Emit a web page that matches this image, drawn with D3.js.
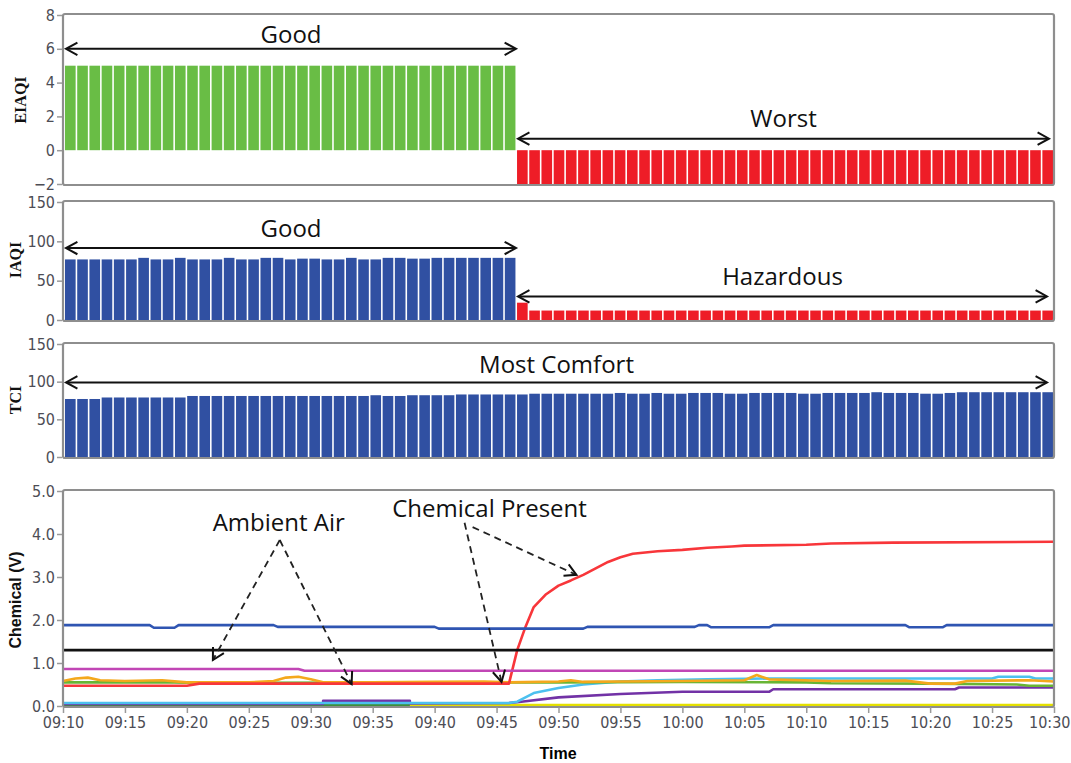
<!DOCTYPE html>
<html>
<head>
<meta charset="utf-8">
<script src="https://cdn.jsdelivr.net/npm/d3@7"></script>
<style>
  body { margin: 0; background: #fff; }
  .tick text { font-family: "Liberation Sans Narrow", "DejaVu Sans Condensed", sans-serif; fill: #4d4d55; }
  .note { font-family: "Open Sans", sans-serif; font-size: 24px; fill: #111; }
</style>
</head>
<body>
<div id="container"></div>
<script>
var W = 1071, H = 763

// ---- data ----
// bar panels: one bar per minute, 09:10 .. 10:30
var eiaqi = [5,5,5,5,5,5,5,5,5,5, 5,5,5,5,5,5,5,5,5,5, 5,5,5,5,5,5,5,5,5,5, 5,5,5,5,5,5,5,
  -2,-2,-2,-2,-2,-2,-2,-2,-2,-2, -2,-2,-2,-2,-2,-2,-2,-2,-2,-2, -2,-2,-2,-2,-2,-2,-2,-2,-2,-2,
  -2,-2,-2,-2,-2,-2,-2,-2,-2,-2, -2,-2,-2,-2]
var iaqi = [77,77,77,77,77,77,79,77,77,79, 77,77,77,79,77,77,79,79,77,78, 78,77,77,79,77,77,79,79,78,78,
  79,79,79,79,79,79,79,
  22,12,12,12,12,12,12,12,12,12, 12,12,12,12,12,12,12,12,12,12, 12,12,12,12,12,12,12,12,12,12,
  12,12,12,12,12,12,12,12,12,12, 12,12,12,12]
var tci = [77,77,77,79,79,79,79,79,79,79, 81,81,81,81,81,81,81,81,81,81, 81,81,81,81,81,82,81,81,82,82,
  82,82,83,83,83,83,83,83,84,84, 84,84,84,84,84,85,84,84,85,84, 84,85,85,85,84,84,85,85,85,85,
  84,84,85,85,85,85,86,85,85,85, 84,84,85,86,86,86,86,86,86,86, 86]
var goodCount = 37   // bars before the chemical is released

var eiaqiTicks = [-2, 0, 2, 4, 6, 8]
var indexTicks = [0, 50, 100, 150]
var chemTicks = [0, 1, 2, 3, 4, 5]
var timeTicks = ["09:10","09:15","09:20","09:25","09:30","09:35","09:40","09:45","09:50","09:55",
  "10:00","10:05","10:10","10:15","10:20","10:25","10:30"]

// chemical sensor lines [time, volts]
var chemYellow = [["09:10",0.02],["10:30",0.02]]
var chemDarkGreen = [["09:10",0.02],["09:38",0.02]]
var chemPurple = [["09:10",0.05],["09:31",0.05],["09:31",0.12],["09:38",0.12],["09:38",0.06],["09:46",0.07],
  ["09:47",0.1],["09:50",0.2],["09:55",0.28],["10:00",0.33],["10:07",0.33],["10:07:20",0.39],
  ["10:22",0.39],["10:22:20",0.43],["10:30",0.43]]
var chemCyan = [["09:10",0.07],["09:46",0.07],["09:46:40",0.1],["09:48",0.3],["09:50",0.42],["09:52",0.5],
  ["09:55",0.57],["09:58",0.6],["10:02",0.62],["10:07",0.64],["10:25",0.64],["10:25:30",0.68],
  ["10:28",0.68],["10:28:30",0.64],["10:30",0.64]]
var chemGreen = [["09:10",0.55],["09:19",0.55],["09:20",0.54],["09:46",0.55],["09:50",0.55],["10:00",0.56],
  ["10:10",0.55],["10:12",0.53],["10:20",0.52],["10:27",0.5],["10:28",0.47],["10:30",0.47]]
var chemOrange = [["09:10",0.58],["09:11",0.64],["09:12",0.66],["09:13",0.6],["09:15",0.58],["09:18",0.6],
  ["09:20",0.55],["09:25",0.55],["09:27",0.58],["09:28",0.66],["09:29",0.68],["09:30",0.62],["09:31",0.55],
  ["09:35",0.55],["09:40",0.56],["09:44",0.57],["09:46",0.55],["09:50",0.57],["09:51",0.6],["09:52",0.56],
  ["09:55",0.57],["10:00",0.58],["10:05",0.6],["10:06",0.72],["10:07",0.62],["10:12",0.58],["10:18",0.59],
  ["10:20",0.52],["10:22",0.52],["10:23",0.58],["10:28",0.6],["10:30",0.57]]
var chemRed = [["09:10",0.47],["09:20",0.47],["09:21",0.52],["09:46",0.52],["09:46:40",1.3],["09:47:20",1.84],
  ["09:48",2.3],["09:49",2.6],["09:50",2.8],["09:51",2.92],["09:52",3.05],["09:53",3.2],["09:54",3.35],
  ["09:55",3.46],["09:56",3.54],["09:58",3.6],["10:00",3.63],["10:02",3.68],["10:04",3.71],
  ["10:05",3.73],["10:10",3.75],["10:12",3.78],["10:17",3.8],["10:30",3.82]]
var chemMagenta = [["09:10",0.86],["09:29",0.86],["09:29:30",0.82],["10:30",0.82]]
var chemBlack = [["09:10",1.3],["10:30",1.3]]
var chemBlue = [["09:10",1.88],["09:17",1.88],["09:17:20",1.82],["09:19",1.82],["09:19:20",1.88],["09:27",1.88],
  ["09:27:20",1.84],["09:40",1.84],["09:40:20",1.8],["09:52",1.8],["09:52:20",1.84],["10:01",1.84],
  ["10:01:20",1.88],["10:02",1.88],["10:02:20",1.83],["10:07",1.83],["10:07:20",1.88],["10:18",1.88],
  ["10:18:20",1.83],["10:21",1.83],["10:21:20",1.88],["10:30",1.88]]

var lineOrder = ["yellow","darkGreen","purple","cyan","green","orange","red","magenta","black","blue"]
var lineData = {yellow: chemYellow, darkGreen: chemDarkGreen, purple: chemPurple, cyan: chemCyan,
  green: chemGreen, orange: chemOrange, red: chemRed, magenta: chemMagenta, black: chemBlack, blue: chemBlue}
var lineColor = {yellow: "#e4e000", darkGreen: "#3f8f3a", purple: "#7232a6", cyan: "#4cc0ef",
  green: "#68b535", orange: "#f4a81c", red: "#f8363a", magenta: "#c146b5", black: "#111111", blue: "#2f55b2"}

// annotations: [time, volts]
var ambientText = ["09:27:25", 4.08]
var ambientArrows = [[["09:27:30",3.86],["09:22:06",1.07]], [["09:27:30",3.86],["09:33:18",0.51]]]
var chemicalText = ["09:44:26", 4.4]
var chemicalArrows = [[["09:42:25",4.26],["09:45:24",0.56]], [["09:43:04",4.16],["09:51:27",3.05]]]

// ---- scales ----
var parseT = s => d3.timeParse(s.length > 5 ? "%H:%M:%S" : "%H:%M")(s)
var x = d3.scaleTime().domain([parseT("09:10"), parseT("10:30")]).range([63, 1054])
var xb = d3.scaleBand().domain(d3.range(eiaqi.length)).range([65, 1053]).paddingInner(0.13)

var svg = d3.select('#container').append('svg')
  .attr('width', W)
  .attr('height', H)

function frame(y) {
  var r = y.range()
  svg.append('rect')
    .attr('x', x.range()[0]).attr('y', r[1] - 1)
    .attr('width', x.range()[1] - x.range()[0]).attr('height', r[0] - r[1] + 2)
    .attr('rx', 2)
    .style('fill', 'none').style('stroke', '#8e8e8e').style('stroke-width', 2.2)
}

function yAxis(y, ticks, fmt, label, labelFont, labelX, labelY) {
  var g = svg.append('g')
    .attr('transform', 'translate(' + (x.range()[0] - 1) + ',0)')
    .call(d3.axisLeft(y).tickValues(ticks).tickSize(5).tickPadding(2).tickFormat(fmt))
  g.select('.domain').remove()
  g.selectAll('.tick line').style('stroke', '#9a9a9a').style('stroke-width', 1.5)
  g.selectAll('.tick text').style('font-size', '16px')
  svg.append('text')
    .attr('transform', 'translate(' + labelX + ',' + labelY + ') rotate(-90)')
    .attr('text-anchor', 'middle')
    .style('font-family', labelFont.family).style('font-weight', 'bold').style('font-size', labelFont.size)
    .style('fill', '#111')
    .text(label)
}

function chevron(px, py, ang) {
  // open arrowhead at (px,py), ang = direction of travel
  var a = 0.5, L = 13
  var p = d3.path()
  p.moveTo(px - L * Math.cos(ang - a), py - L * Math.sin(ang - a))
  p.lineTo(px, py)
  p.lineTo(px - L * Math.cos(ang + a), py - L * Math.sin(ang + a))
  svg.append('path').attr('d', p.toString())
    .style('fill', 'none').style('stroke', '#111').style('stroke-width', 2)
}

function rangeArrow(x1, x2, yy, label, ty) {
  svg.append('line').attr('x1', x1 + 2).attr('x2', x2 - 2).attr('y1', yy).attr('y2', yy)
    .style('stroke', '#111').style('stroke-width', 2)
  chevron(x1 + 1, yy, Math.PI)
  chevron(x2 - 1, yy, 0)
  svg.append('text').attr('class', 'note')
    .attr('x', (x1 + x2) / 2).attr('y', ty).attr('text-anchor', 'middle').text(label)
}

function bars(y, values, colorFn) {
  svg.append('g').selectAll('rect').data(values).enter().append('rect')
    .attr('x', (d, i) => xb(i))
    .attr('width', xb.bandwidth())
    .attr('y', d => Math.min(y(d), y(0)))
    .attr('height', d => Math.abs(y(d) - y(0)))
    .style('fill', (d, i) => colorFn(i))
}

var serif = {family: '"Liberation Serif", serif', size: '16px'}

// ---- panel 1: EIAQI ----
var y1 = d3.scaleLinear().domain([-2, 8]).range([184, 15])
bars(y1, eiaqi, i => i < goodCount ? '#69bd45' : '#ee1d27')
frame(y1)
yAxis(y1, eiaqiTicks, d3.format('d'), 'EIAQI', serif, 26, 100)
rangeArrow(xb(0), xb(goodCount), y1(6), 'Good', y1(6.35))
rangeArrow(xb(goodCount), 1050, y1(0.68), 'Worst', y1(1.4))

// ---- panel 2: IAQI ----
var y2 = d3.scaleLinear().domain([0, 150]).range([320, 202])
bars(y2, iaqi, i => i < goodCount ? '#3050a2' : '#ee1d27')
frame(y2)
yAxis(y2, indexTicks, d3.format('d'), 'IAQI', serif, 21, 260)
rangeArrow(xb(0), xb(goodCount), y2(91.5), 'Good', y2(105))
rangeArrow(xb(goodCount), 1048, y2(30), 'Hazardous', y2(45))

// ---- panel 3: TCI ----
var y3 = d3.scaleLinear().domain([0, 150]).range([457, 344])
bars(y3, tci, i => '#3050a2')
frame(y3)
yAxis(y3, indexTicks, d3.format('d'), 'TCI', serif, 21, 400)
rangeArrow(xb(0), 1048, y3(99), 'Most Comfort', y3(112))

// ---- panel 4: chemical sensors ----
var y4 = d3.scaleLinear().domain([0, 5]).range([706, 491])
var line = d3.line().x(d => x(parseT(d[0]))).y(d => y4(d[1]))
lineOrder.forEach(function (k) {
  svg.append('path').attr('d', line(lineData[k]))
    .style('fill', 'none').style('stroke', lineColor[k]).style('stroke-width', 2.6)
    .style('stroke-linejoin', 'round')
})
frame(y4)
yAxis(y4, chemTicks, d3.format('.1f'), 'Chemical (V)', {family: '"Liberation Sans Narrow", sans-serif', size: '16px'}, 21, 600)

var gx = svg.append('g')
  .attr('transform', 'translate(0,' + (y4.range()[0] + 1) + ')')
  .call(d3.axisBottom(x).tickValues(timeTicks.map(parseT)).tickSize(6).tickPadding(4).tickFormat(d3.timeFormat('%H:%M')))
gx.select('.domain').remove()
gx.selectAll('.tick line').style('stroke', '#9a9a9a').style('stroke-width', 1.5)
gx.selectAll('.tick text').style('font-size', '16px')
// keep the last label inside the picture
gx.selectAll('.tick:last-of-type text').attr('text-anchor', 'end').attr('x', 16)
svg.append('text')
  .attr('x', 558).attr('y', 759).attr('text-anchor', 'middle')
  .style('font-family', '"Liberation Sans Narrow", sans-serif').style('font-weight', 'bold').style('font-size', '16px')
  .text('Time')

function dashedArrow(a) {
  var x0 = x(parseT(a[0][0])), yA = y4(a[0][1]), x1 = x(parseT(a[1][0])), yB = y4(a[1][1])
  svg.append('line').attr('x1', x0).attr('y1', yA).attr('x2', x1).attr('y2', yB)
    .style('stroke', '#222').style('stroke-width', 1.8).style('stroke-dasharray', '7,5')
  chevron(x1, yB, Math.atan2(yB - yA, x1 - x0))
}
svg.append('text').attr('class', 'note')
  .attr('x', x(parseT(ambientText[0]))).attr('y', y4(ambientText[1])).attr('text-anchor', 'middle').text('Ambient Air')
ambientArrows.forEach(dashedArrow)
svg.append('text').attr('class', 'note')
  .attr('x', x(parseT(chemicalText[0]))).attr('y', y4(chemicalText[1])).attr('text-anchor', 'middle').text('Chemical Present')
chemicalArrows.forEach(dashedArrow)
</script>
</body>
</html>
